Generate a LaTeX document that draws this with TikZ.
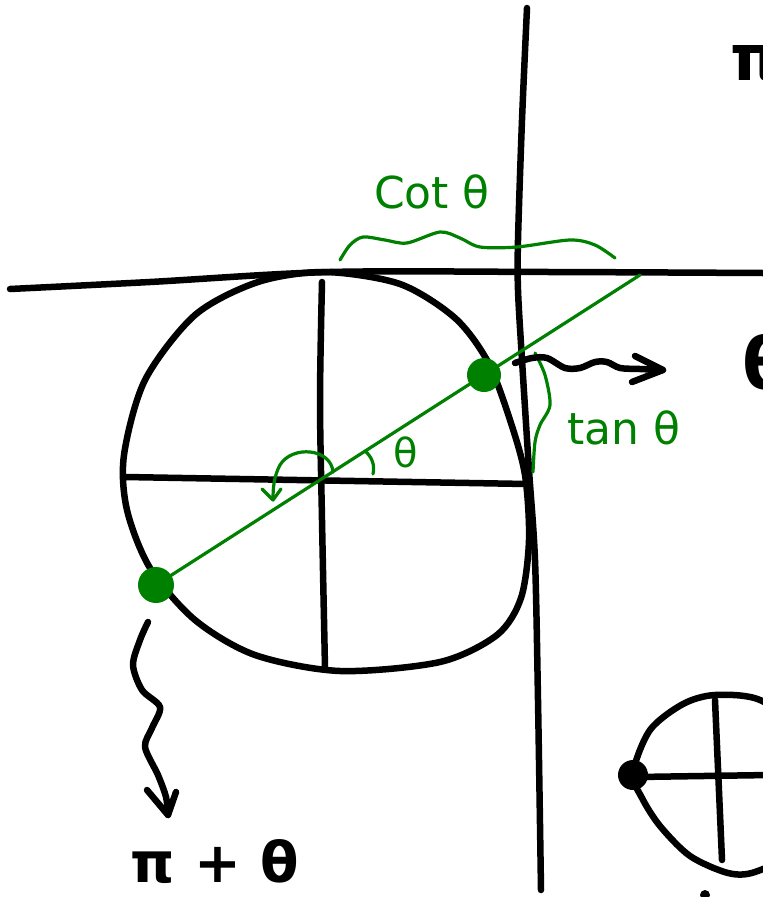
\documentclass[tikz,border=0pt]{standalone}
\usepackage{fontspec}
\setmainfont{DejaVu Sans}
\definecolor{pen}{RGB}{0,128,0}
\begin{document}
\begin{tikzpicture}[x=1pt,y=-1pt,
  blk/.style={line width=6.5pt,line cap=round,line join=round},
  grn/.style={draw=pen,line width=3.2pt,line cap=round,line join=round},
  gtext/.style={text=pen,inner sep=0pt,font=\fontsize{44}{44}\selectfont},
  ktext/.style={text=black,inner sep=0pt,font=\fontsize{56}{56}\selectfont\bfseries}]
\useasboundingbox (0,0) rectangle (763,897);
\clip (0,0) rectangle (763,897);
% axes-like lines
\draw[blk] plot[smooth] coordinates {(527,8) (522,120) (518,240) (518,290) (522,360) (529,470) (535,560) (538,700) (541,890)};
\draw[blk] plot[smooth] coordinates {(10,289) (150,282) (330,272) (550,272) (763,273)};
% main circle
\draw[blk] plot[smooth cycle] coordinates {(325,272) (400,284) (455,318) (488,362) (510,420) (525,475) (529,540) (521,598) (497,635) (440,662) (340,671) (255,655) (195,620) (150,568) (127,510) (124,455) (145,380) (195,315) (258,282)};
\draw[blk] (125,477) -- (527,484);
\draw[blk] plot[smooth] coordinates {(322,282) (320,400) (322,520) (325,668)};
% green diameter and points
\coordinate (F) at (640,275);
\node[circle,fill=pen,minimum size=36pt,inner sep=0pt] (P) at (156,585) {};
\node[circle,fill=pen,minimum size=34pt,inner sep=0pt] (Q) at (484,375) {};
\draw[grn] (P.center) -- (F);
% angle
\draw[grn] (365,451) .. controls (372,457) and (375,465) .. (373,474);
\node[gtext,font=\fontsize{40}{40}\selectfont] (th) at (406,452) {θ};
% curved arrow around centre
\draw[grn] (333,472) .. controls (331,448) and (292,445) .. (280,465) .. controls (274,476) and (273,488) .. (273,499);
\draw[grn] (262,489) -- (273,500) -- (281,489);
% cot brace
\draw[grn] plot[smooth] coordinates {(340,260) (350,245) (363,237) (385,240) (407,243) (440,232) (460,238) (480,247) (517,247) (570,240) (595,245) (615,258)};
\node[gtext] (cot) at (432,192) {Cot θ};
% tan brace
\draw[grn] plot[smooth] coordinates {(535,353) (545,375) (550,405) (540,425) (535,442) (533,472)};
\node[gtext] (tan) at (624,428) {tan θ};
% wavy arrow right
\coordinate (R2) at (663,370);
\draw[blk] plot[smooth] coordinates {(515,363) (532,358) (547,358) (565,368) (580,368) (595,362) (607,362) (620,368) (640,369) (663,370)};
\draw[blk] (635,356) -- (R2) -- (632,382);
\node[ktext,font=\fontsize{72}{72}\selectfont\bfseries,anchor=west] (th2) at (742,362) {θ};
\node[ktext,font=\fontsize{64}{64}\selectfont\bfseries,anchor=base west] (pi1) at (730,80) {π};
% wavy arrow down
\coordinate (D2) at (168,815);
\draw[blk] plot[smooth] coordinates {(148,622) (140,640) (133,665) (142,690) (160,707) (152,728) (145,747) (158,775) (166,797) (168,815)};
\draw[blk] (147,790) -- (D2) -- (176,792);
\node[ktext] (pith) at (215,862) {π + θ};
% small circle bottom right
\draw[blk] plot[smooth cycle] coordinates {(633,773) (650,730) (683,704) (715,695) (760,700) (805,735) (815,800) (795,850) (755,872) (728,873) (690,856) (660,826) (642,798)};
\draw[blk] (715,700) -- (722,860);
\draw[blk] (637,777) -- (770,775);
\node[circle,fill=black,minimum size=30pt,inner sep=0pt] (S) at (633,775) {};
\fill (705,895) circle (5);
\end{tikzpicture}
\end{document}
